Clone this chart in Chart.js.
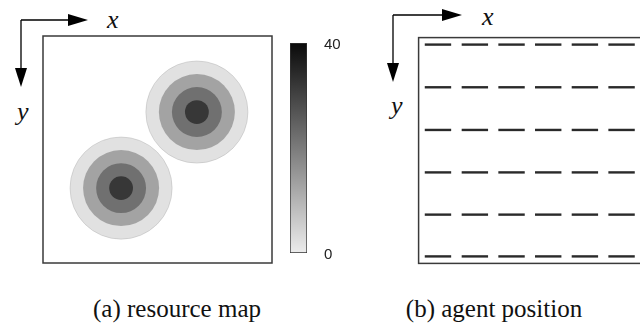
<!DOCTYPE html>
<html>
<head>
<meta charset="utf-8">
<script src="https://cdn.jsdelivr.net/npm/chart.js@4/dist/chart.umd.min.js"></script>
<style>
  html, body { margin:0; padding:0; background:#fff; width:640px; height:336px; overflow:hidden; }
  #wrap { position:relative; width:640px; height:336px; overflow:hidden; }
  canvas { position:absolute; }
  .lbl { position:absolute; font-family:"Liberation Serif", serif; font-style:italic; font-size:26px; color:#111; line-height:1; }
  .cap { position:absolute; font-family:"Liberation Serif", serif; font-size:25px; color:#111; line-height:1; white-space:nowrap; transform:translateX(-50%); }
  svg { position:absolute; left:0; top:0; }
</style>
</head>
<body>
<div id="wrap">
  <svg width="640" height="336">
    <g fill="#000" stroke="#000" stroke-width="1.3">
      <path d="M21 20 H70 M21 20 V70" fill="none"/>
      <path d="M68 14 L88 20 L68 26 Z" stroke="none"/>
      <path d="M15 68 L21 87 L27 68 Z" stroke="none"/>
      <path d="M393 15 H444 M393 15 V66" fill="none"/>
      <path d="M442 9 L462 15 L442 21 Z" stroke="none"/>
      <path d="M387 63 L393 82 L399 63 Z" stroke="none"/>
    </g>
  </svg>
  <div class="lbl" style="left:107px;top:7px;">x</div>
  <div class="lbl" style="left:17px;top:99px;">y</div>
  <div class="lbl" style="left:482px;top:4px;">x</div>
  <div class="lbl" style="left:391px;top:93px;">y</div>
  <canvas id="map" width="231" height="229" style="left:42px;top:35px;width:231px;height:229px;"></canvas>
  <canvas id="bar" width="52" height="236" style="left:289px;top:30px;width:52px;height:236px;"></canvas>
  <canvas id="agents" width="259" height="257" style="left:403px;top:22px;width:259px;height:257px;"></canvas>
  <div class="cap" style="left:177px;top:296px;">(a) resource map</div>
  <div class="cap" style="left:494px;top:296px;">(b) agent position</div>
</div>
<script>
// ---- Data ----
// resource peaks (map units 0..100, y downward)
const peakX = [67.2, 34.1];
const peakY = [33.5, 67.0];
// contour rings: radius (map units) and resource level of each band, outermost first
const ringRadii = [22.3, 16.6, 10.9, 5.2];
const ringLevels = [2, 13, 22, 32];
// colour bar range and tick labels
const colorMin = 0;
const colorMax = 40;
const colorTicks = [0, 40];
// agent grid positions (map units)
const agentCols = [8.5, 24.7, 40.8, 56.9, 73.0, 89.1];
const agentRows = [3.1, 22.0, 40.9, 59.7, 78.4, 96.9];

// ---- helpers ----
function grayFor(v) {
  const t = Math.max(0, Math.min(1, (v - colorMin) / (colorMax - colorMin)));
  const g = Math.round(236 - t * 226);
  return `rgb(${g},${g},${g})`;
}
const boxPlugin = {
  id: 'box',
  afterDraw(chart) {
    const a = chart.chartArea, c = chart.ctx;
    c.save();
    c.strokeStyle = '#3a3a3a';
    c.lineWidth = 1.5;
    c.strokeRect(a.left, a.top, a.right - a.left, a.bottom - a.top);
    c.restore();
  }
};
Chart.defaults.animation = false;
Chart.defaults.events = [];

// ---- (a) resource map ----
const mapDatasets = ringRadii.map((r, i) => ({
  data: peakX.map((x, k) => ({ x: x, y: peakY[k] })),
  order: ringRadii.length - i,
  backgroundColor: grayFor(ringLevels[i]),
  borderColor: i === 0 ? 'rgba(150,150,150,0.5)' : grayFor(ringLevels[i]),
  borderWidth: i === 0 ? 0.6 : 0,
  pointRadius: (ctx) => {
    const s = ctx.chart.scales.x;
    if (!s) return 0;
    const px = Math.abs(s.getPixelForValue(r) - s.getPixelForValue(0));
    return isFinite(px) ? px : 0;
  },
  pointHoverRadius: 0,
  clip: false
}));
new Chart(document.getElementById('map'), {
  type: 'scatter',
  data: { datasets: mapDatasets },
  options: {
    responsive: false,
    layout: { padding: 1 },
    plugins: { legend: { display: false }, tooltip: { enabled: false } },
    scales: {
      x: { type: 'linear', min: 0, max: 100, display: false },
      y: { type: 'linear', min: 0, max: 100, reverse: true, display: false }
    }
  },
  plugins: [boxPlugin]
});

// ---- colour bar ----
new Chart(document.getElementById('bar'), {
  type: 'bar',
  data: {
    labels: ['v'],
    datasets: [{
      data: [colorMax],
      backgroundColor: (ctx) => {
        const a = ctx.chart.chartArea;
        if (!a) return '#888';
        const ys = ctx.chart.scales.y;
        const g = ctx.chart.ctx.createLinearGradient(0, ys.getPixelForValue(colorMin), 0, ys.getPixelForValue(colorMax));
        for (let k = 0; k <= 8; k++) {
          const v = colorMin + (colorMax - colorMin) * k / 8;
          g.addColorStop(k / 8, grayFor(v));
        }
        return g;
      },
      borderColor: '#333',
      borderWidth: 1,
      borderSkipped: false,
      barPercentage: 1,
      categoryPercentage: 1
    }]
  },
  options: {
    responsive: false,
    layout: { padding: { top: 13, bottom: 13, left: 1, right: 0 } },
    plugins: { legend: { display: false }, tooltip: { enabled: false } },
    scales: {
      x: { display: false },
      y: {
        position: 'right', min: colorMin, max: colorMax,
        grid: { display: false }, border: { display: false },
        afterBuildTicks: (s) => { s.ticks = colorTicks.map(v => ({ value: v })); },
        afterFit: (s) => { s.width = 34; s.paddingTop = 0; s.paddingBottom = 0; },
        ticks: { padding: 9, labelOffset: 2, color: '#222', font: { family: "'Liberation Sans Narrow', 'Liberation Sans'", size: 15 } }
      }
    }
  }
});

// ---- (b) agent positions ----
const agentPts = [];
agentRows.forEach(y => agentCols.forEach(x => agentPts.push({ x: x, y: y })));
new Chart(document.getElementById('agents'), {
  type: 'scatter',
  data: {
    datasets: [{
      data: agentPts,
      pointStyle: 'line',
      pointRadius: 13.2,
      pointHoverRadius: 13.2,
      borderColor: '#2a2a2a',
      borderWidth: 2.4,
      clip: false
    }]
  },
  options: {
    responsive: false,
    layout: { padding: 15 },
    plugins: { legend: { display: false }, tooltip: { enabled: false } },
    scales: {
      x: { type: 'linear', min: 0, max: 100, display: false },
      y: { type: 'linear', min: 0, max: 100, reverse: true, display: false }
    }
  },
  plugins: [boxPlugin]
});
</script>
</body>
</html>
